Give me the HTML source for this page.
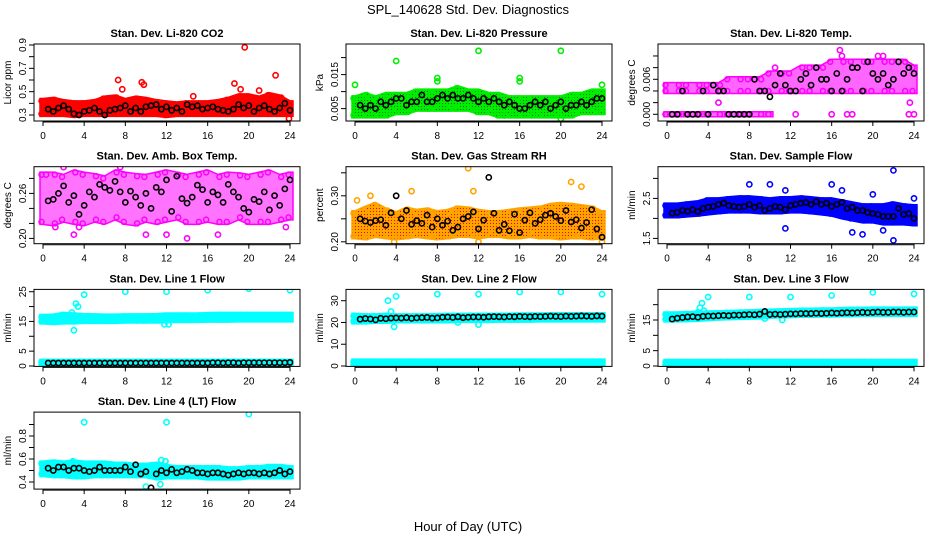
<!DOCTYPE html>
<html><head><meta charset="utf-8"><style>
html,body{margin:0;padding:0;background:#fff}
svg{display:block}
text{font-family:"Liberation Sans",sans-serif}
</style></head><body>
<svg id="chart" width="936" height="540" viewBox="0 0 936 540" xmlns="http://www.w3.org/2000/svg">
<defs>
<pattern id="rhPat" width="3" height="3" patternUnits="userSpaceOnUse"><rect width="3" height="3" fill="#ffa500"/><rect x="1" y="1" width="1" height="1" fill="#ff0000"/></pattern>
<pattern id="grPat" width="3" height="3" patternUnits="userSpaceOnUse"><rect width="3" height="3" fill="#00ee00"/><rect x="1" y="1" width="1" height="1" fill="#007700"/></pattern>
</defs>
<text x="468" y="14" text-anchor="middle" font-size="13">SPL_140628  Std. Dev. Diagnostics</text>
<text x="468" y="531" text-anchor="middle" font-size="13">Hour of Day (UTC)</text>
</svg>
<script>
const hourTicks = [0,4,8,12,16,20,24];

const co2Lo = [0.31,0.31,0.31,0.30,0.31,0.31,0.31,0.31,0.31,0.31,0.31,0.31,0.30,0.31,0.31,0.31,0.31,0.31,0.31,0.31,0.31,0.31,0.31,0.31,0.31];
const co2Hi = [0.42,0.43,0.41,0.40,0.40,0.41,0.44,0.45,0.42,0.44,0.43,0.41,0.40,0.39,0.40,0.40,0.40,0.41,0.43,0.46,0.46,0.44,0.47,0.45,0.40];
const co2Out = [[7.3,0.60],[7.7,0.52],[9.6,0.58],[9.8,0.56],[19.6,0.88],[19.2,0.52],[18.6,0.57],[22.6,0.64],[23.9,0.27],[14.6,0.46],[21,0.51]];
const co2Black = [0.35,0.33,0.36,0.38,0.35,0.31,0.30,0.33,0.34,0.36,0.33,0.30,0.34,0.35,0.36,0.38,0.33,0.36,0.33,0.37,0.38,0.39,0.35,0.37,0.34,0.36,0.33,0.39,0.37,0.38,0.35,0.36,0.37,0.35,0.34,0.33,0.35,0.39,0.36,0.38,0.33,0.36,0.38,0.35,0.33,0.36,0.40,0.34];

const presLo = [0.003,0.003,0.003,0.003,0.004,0.004,0.005,0.005,0.005,0.005,0.005,0.005,0.004,0.004,0.003,0.003,0.003,0.003,0.003,0.003,0.003,0.003,0.004,0.004,0.004];
const presHi = [0.008,0.009,0.008,0.009,0.009,0.009,0.010,0.010,0.010,0.010,0.011,0.010,0.010,0.009,0.009,0.008,0.008,0.008,0.008,0.008,0.008,0.009,0.009,0.010,0.010];
const presOut = [[0,0.012],[4,0.019],[8,0.013],[8,0.014],[12,0.022],[16,0.013],[16,0.014],[20,0.022],[24,0.012],[20,0.002],[14.5,0.003]];
const presBlack = [0.006,0.005,0.006,0.005,0.007,0.006,0.007,0.008,0.008,0.006,0.007,0.007,0.009,0.007,0.007,0.008,0.009,0.008,0.009,0.008,0.008,0.009,0.008,0.007,0.008,0.007,0.008,0.007,0.006,0.007,0.006,0.005,0.005,0.006,0.007,0.006,0.007,0.005,0.006,0.007,0.005,0.006,0.006,0.007,0.006,0.007,0.008,0.008];

const tmpZeroLo = [0,0,0,0,0,0,0,0,0,0,0,null,null,null,null,null,null,null,null,null,null,null,null,null,null];
const tmpZeroHi = [0,0,0,0,0,0,0,0,0,0,0,null,null,null,null,null,null,null,null,null,null,null,null,null,null];
const tmpLo = [0.004,0.004,0.004,0.004,0.004,0.004,0.004,0.004,0.004,0.004,0.004,0.004,0.004,0.004,0.004,0.004,0.004,0.004,0.004,0.004,0.004,0.004,0.004,0.004,0.004];
const tmpHi = [0.005,0.005,0.005,0.005,0.005,0.005,0.006,0.006,0.006,0.006,0.007,0.007,0.007,0.008,0.008,0.008,0.009,0.009,0.009,0.009,0.009,0.009,0.009,0.009,0.008];
const tmpOut = [[16.8,0.011],[17,0.010],[20.5,0.010],[21,0.010],[10.5,0.008],[5,0.002],[12.5,0],[16,0],[17.5,0],[18,0],[23.5,0],[24,0],[23.6,0.002]];
const tmpBlack = [0,0,0.004,0,0,0,0.004,0,0.005,0.004,0.004,0,0,0,0,0,0.006,0.004,0.004,0.003,0.005,0.007,0.005,0.004,0.004,0.006,0.007,0.005,0.008,0.006,0.006,0.004,0.007,0.004,0.006,0.008,0.008,0.004,0.009,0.007,0.006,0.007,0.005,0.006,0.009,0.007,0.008,0.007];

const ambLo = [0.222,0.220,0.225,0.222,0.220,0.225,0.222,0.228,0.222,0.220,0.225,0.222,0.225,0.228,0.222,0.222,0.225,0.222,0.222,0.228,0.222,0.222,0.222,0.225,0.228];
const ambHi = [0.285,0.285,0.282,0.288,0.285,0.283,0.280,0.288,0.285,0.283,0.282,0.285,0.288,0.285,0.282,0.285,0.288,0.282,0.285,0.284,0.282,0.285,0.288,0.282,0.285];
const ambOut = [[1,0.31],[2,0.295],[3,0.205],[7.5,0.295],[10,0.205],[12,0.205],[13,0.30],[14,0.20],[17,0.205],[0.3,0.285],[3.5,0.215],[1.2,0.215],[23.6,0.215]];
const ambBlack = [0.250,0.252,0.260,0.270,0.248,0.257,0.232,0.244,0.262,0.255,0.272,0.268,0.264,0.276,0.262,0.248,0.263,0.255,0.244,0.260,0.240,0.268,0.262,0.278,0.236,0.283,0.253,0.247,0.255,0.271,0.265,0.248,0.262,0.258,0.248,0.272,0.262,0.255,0.240,0.235,0.252,0.249,0.262,0.238,0.257,0.244,0.266,0.278];

const rhLo = [0.212,0.210,0.215,0.212,0.210,0.212,0.215,0.212,0.210,0.212,0.215,0.215,0.212,0.215,0.215,0.212,0.212,0.215,0.212,0.212,0.210,0.212,0.212,0.210,0.212];
const rhHi = [0.262,0.272,0.280,0.268,0.260,0.270,0.265,0.268,0.262,0.265,0.272,0.270,0.265,0.262,0.262,0.265,0.268,0.270,0.272,0.278,0.280,0.278,0.275,0.272,0.262];
const rhOut = [[11,0.36],[21,0.33],[22,0.32],[3.8,0.20],[12,0.20],[5.5,0.31],[24,0.20],[0.2,0.29],[1.5,0.30],[11.5,0.31]];
const rhBlack = [0.250,0.245,0.242,0.246,0.248,0.236,0.263,0.300,0.250,0.268,0.238,0.246,0.240,0.258,0.232,0.250,0.236,0.245,0.225,0.232,0.250,0.255,0.265,0.228,0.247,0.340,0.262,0.225,0.238,0.224,0.260,0.220,0.247,0.263,0.240,0.248,0.258,0.262,0.255,0.246,0.268,0.243,0.248,0.230,0.242,0.270,0.228,0.210];

const sfLo = [2.08,2.08,2.10,2.12,2.15,2.18,2.20,2.20,2.20,2.18,2.18,2.18,2.20,2.20,2.18,2.15,2.12,2.05,2.00,1.95,1.95,1.90,1.90,1.90,1.88];
const sfHi = [2.32,2.32,2.35,2.38,2.45,2.45,2.48,2.50,2.50,2.48,2.45,2.48,2.48,2.50,2.48,2.45,2.45,2.40,2.35,2.30,2.30,2.30,2.35,2.30,2.28];
const sfOut = [[8,2.85],[10,2.85],[11.5,1.75],[16,2.85],[18,1.65],[19,1.6],[22,3.2],[22,1.45],[20,2.6],[24,2.5],[11.5,2.7],[17,2.7],[21,1.7]];
const sfBlack = [2.13,2.15,2.20,2.18,2.22,2.17,2.25,2.28,2.30,2.35,2.38,2.32,2.30,2.28,2.30,2.35,2.28,2.32,2.20,2.25,2.30,2.28,2.22,2.32,2.35,2.38,2.40,2.35,2.42,2.35,2.38,2.30,2.35,2.40,2.25,2.28,2.20,2.20,2.15,2.12,2.10,2.05,2.05,2.05,2.25,2.10,2.12,2.00];

const l1Lo = [15.0,14.8,15.0,15.0,15.2,15.2,15.2,15.2,15.3,15.3,15.3,15.3,15.4,15.5,15.5,15.5,15.6,15.6,15.6,15.7,15.7,15.7,15.7,15.7,15.7];
const l1Hi = [16.5,16.6,17.2,17.0,16.8,16.7,16.6,16.6,16.7,16.7,16.7,16.8,17.0,17.0,17.0,17.0,17.1,17.2,17.2,17.2,17.2,17.2,17.2,17.2,17.2];
const l1BotLo = [0.6,0.6,0.6,0.6,0.6,0.6,0.6,0.6,0.6,0.6,0.6,0.6,0.6,0.6,0.6,0.6,0.6,0.6,0.6,0.6,0.6,0.6,0.6,0.6,0.6];
const l1BotHi = [1.4,1.4,1.4,1.4,1.4,1.4,1.4,1.4,1.4,1.4,1.4,1.4,1.4,1.4,1.4,1.4,1.4,1.4,1.4,1.4,1.4,1.4,1.4,1.4,1.4];
const l1Out = [[3.2,21],[3.4,20],[3.0,12],[2.8,18],[4,24],[8,25],[12,25],[16,25.5],[20,26],[24,25.5],[11.8,14],[12.2,14]];
const l1Black = [1.0,1.0,1.0,1.0,1.0,1.0,1.0,1.0,1.0,1.0,1.0,1.0,1.0,1.0,1.0,1.0,1.0,1.0,1.0,1.0,1.0,1.0,1.0,1.0,1.0,1.0,1.0,1.0,1.0,1.0,1.0,1.0,1.1,1.1,1.0,1.1,1.1,1.0,1.1,1.1,1.1,1.1,1.1,1.1,1.1,1.1,1.1,1.2];

const l2Lo = [20.5,20.5,20.8,20.8,21.0,21.0,21.0,21.0,21.0,21.0,21.2,21.2,21.2,21.2,21.3,21.3,21.3,21.3,21.4,21.4,21.4,21.4,21.4,21.4,21.4];
const l2Hi = [23.0,22.8,22.8,23.0,22.8,22.8,22.8,22.8,22.9,23.0,23.0,23.0,23.0,23.0,23.1,23.1,23.2,23.2,23.2,23.3,23.3,23.3,23.3,23.3,23.3];
const l2BotLo = [0.5,0.5,0.5,0.5,0.5,0.5,0.5,0.5,0.5,0.5,0.5,0.5,0.5,0.5,0.5,0.5,0.5,0.5,0.5,0.5,0.5,0.5,0.5,0.5,0.5];
const l2BotHi = [2.0,2.0,2.0,2.0,2.0,2.0,2.0,2.0,2.0,2.0,2.0,2.0,2.0,2.0,2.0,2.0,2.0,2.0,2.0,2.0,2.0,2.0,2.0,2.0,2.0];
const l2Out = [[3.5,25],[3.2,30],[3.8,18],[4,32],[8,33],[12,33],[16,34],[20,34],[24,33],[10,20],[12,19]];
const l2Black = [21.5,21.8,21.6,21.2,21.9,21.7,22.0,22.1,22.0,22.2,21.9,22.1,22.2,22.3,22.0,22.1,22.4,22.5,22.3,22.6,22.2,22.4,22.5,22.5,22.4,22.6,22.7,22.6,22.5,22.7,22.6,22.8,22.7,22.6,22.8,22.7,22.8,22.9,22.8,22.7,22.9,22.8,22.9,23.0,22.9,22.8,23.0,22.9];

const l3Lo = [15.2,15.2,15.3,15.4,15.6,15.8,15.9,16.0,16.1,16.2,16.4,16.5,16.6,16.7,16.7,16.8,16.8,16.9,16.9,17.0,17.0,17.0,17.0,17.0,17.0];
const l3Hi = [16.8,16.8,16.9,17.0,17.1,17.2,17.3,17.4,17.5,17.6,17.7,17.8,17.9,18.0,18.0,18.1,18.1,18.2,18.3,18.3,18.4,18.4,18.4,18.4,18.4];
const l3BotLo = [0.3,0.3,0.3,0.3,0.3,0.3,0.3,0.3,0.3,0.3,0.3,0.3,0.3,0.3,0.3,0.3,0.3,0.3,0.3,0.3,0.3,0.3,0.3,0.3,0.3];
const l3BotHi = [1.3,1.3,1.3,1.3,1.3,1.3,1.3,1.3,1.3,1.3,1.3,1.3,1.3,1.3,1.3,1.3,1.3,1.3,1.3,1.3,1.3,1.3,1.3,1.3,1.3];
const l3Out = [[3,17.5],[3.2,19],[3.4,20.5],[3.6,18],[4,22.5],[8,22.5],[12,22.5],[16,23],[20,24],[24,23.5],[9.5,15.5],[11.2,15]];
const l3Black = [15.3,15.6,15.8,16.0,16.1,15.9,16.2,16.3,16.3,16.4,16.5,16.4,16.6,16.6,16.7,16.8,16.7,16.9,17.8,16.8,16.9,16.8,16.9,17.0,17.0,17.1,17.1,17.1,17.2,17.1,17.2,17.3,17.2,17.3,17.4,17.3,17.4,17.5,17.4,17.5,17.6,17.5,17.5,17.6,17.6,17.5,17.6,17.6];

const l4Lo = [0.47,0.46,0.46,0.45,0.45,0.46,0.46,0.46,0.46,0.46,0.46,0.44,0.45,0.45,0.45,0.45,0.44,0.44,0.44,0.44,0.45,0.45,0.45,0.45,0.45];
const l4Hi = [0.56,0.57,0.56,0.57,0.56,0.56,0.56,0.55,0.55,0.54,0.54,0.55,0.53,0.52,0.52,0.52,0.52,0.52,0.51,0.51,0.52,0.52,0.53,0.53,0.52];
const l4Out = [[4,0.92],[12,0.92],[20,0.99],[2.9,0.58],[11.5,0.59],[11.9,0.58],[11.4,0.38],[10,0.36],[4.2,0.50]];
const l4Black = [0.52,0.50,0.53,0.53,0.50,0.52,0.52,0.50,0.49,0.50,0.53,0.50,0.50,0.50,0.50,0.53,0.49,0.55,0.47,0.49,0.35,0.47,0.50,0.48,0.51,0.48,0.49,0.51,0.50,0.48,0.48,0.47,0.48,0.48,0.47,0.46,0.47,0.48,0.47,0.48,0.48,0.47,0.48,0.47,0.48,0.50,0.47,0.49];

const t_co2 = ["0.3","0.5","0.7","0.9"], t_pres = ["0.005","0.015"], t_tmp = ["0.000","0.006"];
const t_amb = ["0.20","0.26"], t_rh = ["0.20","0.30"], t_sf = ["1.5","2.5"];
const t_l1 = ["0","5","15","25"], t_l2 = ["0","10","20","30"], t_l3 = ["0","5","15"], t_l4 = ["0.4","0.6","0.8"];

const NS = "http://www.w3.org/2000/svg";
const svg = document.getElementById('chart');
function mk(tag, attrs, parent){ const e=document.createElementNS(NS,tag); for(const k in attrs) e.setAttribute(k,attrs[k]); (parent||svg).appendChild(e); return e; }

const panels = [
 {name:'co2',title:'Stan. Dev. Li-820 CO2',ylab:'Licor ppm',col:0,row:0,cal:[0.3,115,0.9,45],minor:[0.3,0.4,0.5,0.6,0.7,0.8,0.9],labels:t_co2,color:'#ff0000',fill:'#ff0000',bands:[[co2Lo,co2Hi]],out:co2Out,black:co2Black},
 {name:'pressure',title:'Stan. Dev. Li-820 Pressure',ylab:'kPa',col:1,row:0,cal:[0.005,108.6,0.015,74.6],minor:[0.005,0.010,0.015,0.020],labels:t_pres,color:'#00ee00',fill:'url(#grPat)',bands:[[presLo,presHi]],out:presOut,black:presBlack},
 {name:'li820-temp',title:'Stan. Dev. Li-820 Temp.',ylab:'degrees C',col:2,row:0,cal:[0,114.3,0.006,79.3],minor:[0,0.002,0.004,0.006,0.008,0.010],labels:t_tmp,color:'#ff00ff',fill:'#ff00ff',bands:[[tmpZeroLo,tmpZeroHi],[tmpLo,tmpHi]],out:tmpOut,black:tmpBlack,op:0.6},
 {name:'amb-box-temp',title:'Stan. Dev. Amb. Box Temp.',ylab:'degrees C',col:0,row:1,cal:[0.20,238.4,0.26,193.4],minor:[0.20,0.22,0.24,0.26,0.28,0.30],labels:t_amb,color:'#ff00ff',fill:'#ff00ff',bands:[[ambLo,ambHi]],out:ambOut,black:ambBlack,op:0.55},
 {name:'gas-stream-rh',title:'Stan. Dev. Gas Stream RH',ylab:'percent',col:1,row:1,cal:[0.20,241.8,0.30,195.8],minor:[0.20,0.25,0.30,0.35],labels:t_rh,color:'#ffa500',fill:'url(#rhPat)',bands:[[rhLo,rhHi]],out:rhOut,black:rhBlack},
 {name:'sample-flow',title:'Stan. Dev. Sample Flow',ylab:'ml/min',col:2,row:1,cal:[1.5,238.4,2.5,198.4],minor:[1.5,2.0,2.5,3.0],labels:t_sf,color:'#0000ff',fill:'#0000ff',bands:[[sfLo,sfHi]],out:sfOut,black:sfBlack},
 {name:'line1-flow',title:'Stan. Dev. Line 1 Flow',ylab:'ml/min',col:0,row:2,cal:[0,366,25,291.7],minor:[0,5,10,15,20,25],labels:t_l1,color:'#00ffff',fill:'#00ffff',bands:[[l1Lo,l1Hi],[l1BotLo,l1BotHi]],out:l1Out,black:l1Black},
 {name:'line2-flow',title:'Stan. Dev. Line 2 Flow',ylab:'ml/min',col:1,row:2,cal:[0,366,30,300.7],minor:[0,10,20,30],labels:t_l2,color:'#00ffff',fill:'#00ffff',bands:[[l2Lo,l2Hi],[l2BotLo,l2BotHi]],out:l2Out,black:l2Black},
 {name:'line3-flow',title:'Stan. Dev. Line 3 Flow',ylab:'ml/min',col:2,row:2,cal:[0,366,15,320],minor:[0,5,10,15,20],labels:t_l3,color:'#00ffff',fill:'#00ffff',bands:[[l3Lo,l3Hi],[l3BotLo,l3BotHi]],out:l3Out,black:l3Black},
 {name:'line4-flow',title:'Stan. Dev. Line 4 (LT) Flow',ylab:'ml/min',col:0,row:3,cal:[0.4,482,0.8,436],minor:[0.4,0.5,0.6,0.7,0.8,0.9],labels:t_l4,color:'#00ffff',fill:'#00ffff',bands:[[l4Lo,l4Hi]],out:l4Out,black:l4Black}
];

panels.forEach(p=>{
  const bl = 34 + p.col*312, br = bl+266, bt = 44 + p.row*122.7, bb = bt+77;
  const xs = h => 43 + p.col*312 + h*(247/24);
  const [v0,y0,v1,y1] = p.cal;
  const ys = v => y0 + (v-v0)*(y1-y0)/(v1-v0);
  const g = mk('g',{});
  
  
  const clipId='clip-'+p.name;
  const cp = mk('clipPath',{id:clipId},g); mk('rect',{x:bl,y:bt,width:br-bl,height:bb-bt},cp);
  const t = mk('text',{x:(bl+br)/2,y:bt-7,'text-anchor':'middle','font-size':'11','font-weight':'bold'},g);
  t.textContent=p.title;
  
  
  const yl = mk('text',{x:0,y:0,'text-anchor':'middle','font-size':'10',transform:`translate(${bl-23},${(bt+bb)/2}) rotate(-90)`},g);
  yl.textContent=p.ylab;
  
  
  const dg = mk('g',{'clip-path':`url(#${clipId})`},g);
  
  
  p.bands.forEach(([lo,hi])=>{
    const top=[], bot=[];
    lo.forEach((v,i)=>{ if(v===null) return; top.push(xs(i)+','+(ys(hi[i])-2.5)); bot.unshift(xs(i)+','+(ys(v)+2.5)); });
    const idx = lo.map((v,i)=>v===null?null:i).filter(v=>v!==null);
    const first = idx[0], last = idx[idx.length-1];
    const pts = [(xs(first)-3)+','+(ys(hi[first])-2.5)].concat(top,[(xs(last)+3)+','+(ys(hi[last])-2.5),(xs(last)+3)+','+(ys(lo[last])+2.5)],bot,[(xs(first)-3)+','+(ys(lo[first])+2.5)]);
    const poly = mk('polygon',{points:pts.join(' '),fill:p.fill,'fill-opacity':p.op||1,stroke:p.color,'stroke-width':1.5},dg);
    
    
    lo.forEach((v,i)=>{ if(v===null) return;
      [v,hi[i]].forEach(val=>{
        const c = mk('circle',{cx:xs(i)+(i%2?1.5:-1.5),cy:ys(val),r:2.5,fill:'none',stroke:p.color,'stroke-width':1.5},dg);
        
        
      });
    });
  });
  p.out.forEach(([h,v])=>{
    const c = mk('circle',{cx:xs(h),cy:ys(v),r:2.6,fill:'none',stroke:p.color,'stroke-width':1.6},dg);
    
    
  });
  p.black.forEach((v,i)=>{
    const c = mk('circle',{cx:xs(0.5*(i+1)),cy:ys(v),r:2.6,fill:'none',stroke:'#000','stroke-width':1.6},dg);
    
    
  });
  const box = mk('rect',{x:bl,y:bt,width:br-bl,height:bb-bt,fill:'none',stroke:'#000','stroke-width':1},g);
  
  
  mk('line',{x1:xs(0),x2:xs(24),y1:bb+1,y2:bb+1,stroke:'#000'},g);
  hourTicks.forEach(h=>{
    mk('line',{x1:xs(h),x2:xs(h),y1:bb,y2:bb+5,stroke:'#000'},g);
    const tl = mk('text',{x:xs(h),y:bb+18,'text-anchor':'middle','font-size':'10'},g);
    tl.textContent=String(h);
    
    
  });
  const ymin = p.minor.filter(v=>ys(v)<=bb+1 && ys(v)>=bt-1);
  mk('line',{x1:bl,x2:bl,y1:ys(ymin[0]),y2:ys(ymin[ymin.length-1]),stroke:'#000'},g);
  ymin.forEach(v=>mk('line',{x1:bl-5,x2:bl,y1:ys(v),y2:ys(v),stroke:'#000'},g));
  p.labels.forEach(s=>{
    const v=parseFloat(s);
    const tl = mk('text',{x:0,y:0,'text-anchor':'middle','font-size':'10',transform:`translate(${bl-8},${ys(v)}) rotate(-90)`},g);
    tl.textContent=s;
    
    
  });
});
</script>
</body></html>
